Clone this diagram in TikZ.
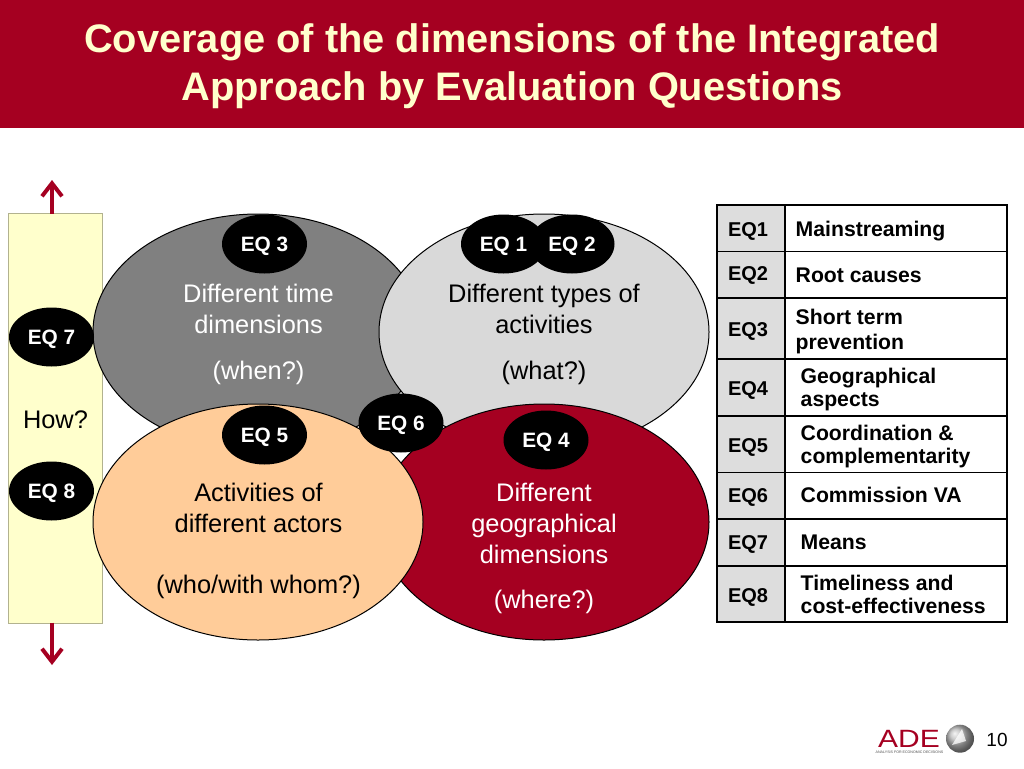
\documentclass[tikz,border=0pt]{standalone}
\usepackage{fontspec}
\setmainfont{Liberation Sans}
\usetikzlibrary{arrows.meta,shapes.geometric}
\definecolor{adered}{HTML}{A50021}
\definecolor{paleyellow}{HTML}{FFFFCC}
\definecolor{midgray}{HTML}{808080}
\definecolor{lightgray2}{HTML}{D9D9D9}
\definecolor{peach}{HTML}{FFCC99}
\definecolor{tabgray}{HTML}{DDDDDD}
\definecolor{yellowedge}{HTML}{B2B28F}
\newcommand{\eqt}[1]{\raisebox{-7.4pt}[0pt][0pt]{#1}}
\tikzset{
 x=1pt,y=1pt,
 big/.style={ellipse,draw=black,line width=1pt,minimum width=330pt,minimum height=236pt,inner sep=0pt},
 eq/.style={ellipse,fill=black,text=white,font=\fontsize{20.8}{20.8}\selectfont\bfseries,minimum width=85pt,minimum height=59pt,inner sep=0pt},
 lbl/.style={font=\fontsize{25.4}{31}\selectfont,align=center,inner sep=0pt},
 hd/.style={font=\fontsize{20}{20}\selectfont\bfseries,inner sep=0pt},
 txt/.style={font=\fontsize{21.2}{23}\selectfont\bfseries,inner sep=0pt,align=left,anchor=west},
 arr/.style={draw=adered,line width=4.5pt,-{Straight Barb[length=13pt,width=20pt,line width=4pt]}},
}
\begin{document}
\begin{tikzpicture}
\useasboundingbox (0,0) rectangle (1024,-768);
\fill[adered] (0,0) rectangle (1024,-128);
\node[text=paleyellow,font=\fontsize{39.8}{48}\selectfont\bfseries,align=center,inner sep=0pt] (title) at (512,-66) {Coverage of the dimensions of the Integrated\\Approach by Evaluation Questions};
% how bar
\node[draw=yellowedge,fill=paleyellow,line width=0.8pt,minimum width=94pt,minimum height=410pt,inner sep=0pt] (how) at (55.5,-418) {};
\node[font=\fontsize{25.4}{25.4}\selectfont,inner sep=0pt] (howt) at (55.5,-420) {How?};
\coordinate (upa) at (52,-180);
\coordinate (dna) at (52,-665);
\draw[arr] (52,-213.5) -- (upa);
\draw[arr] (52,-622.5) -- (dna);
% ellipses
\node[big,fill=midgray] (when) at (258,-332) {};
\node[big,fill=lightgray2] (what) at (544,-332) {};
\node[big,fill=adered] (where) at (544,-522) {};
\node[big,fill=peach] (who) at (258,-522) {};
% labels
\node[lbl,text=white] (t1) at (258.5,-309) {Different time\\dimensions};
\node[lbl,text=white] (t1b) at (258.5,-373) {(when?)};
\node[lbl] (t2) at (544,-309) {Different types of\\activities};
\node[lbl] (t2b) at (544,-373) {(what?)};
\node[lbl] (t3) at (258.5,-508) {Activities of\\different actors};
\node[lbl] (t3b) at (258.5,-587) {(who/with whom?)};
\node[lbl,text=white] (t4) at (544,-523.5) {Different\\geographical\\dimensions};
\node[lbl,text=white] (t4b) at (544,-602) {(where?)};
% EQ
\node[eq] (e3) at (264.5,-244) {\eqt{EQ 3}};
\node[eq] (e1) at (503.5,-244) {\eqt{EQ 1}};
\node[eq] (e2) at (572,-244) {\eqt{EQ 2}};
\node[eq] (e7) at (51.5,-337) {\eqt{EQ 7}};
\node[eq] (e8) at (51.5,-491) {\eqt{EQ 8}};
\node[eq] (e5) at (264.5,-435) {\eqt{EQ 5}};
\node[eq] (e6) at (401,-423) {\eqt{EQ 6}};
\node[eq] (e4) at (546,-440) {\eqt{EQ 4}};
% table
\fill[tabgray] (717,-205) rectangle (785,-622);
\draw[black,line width=1.2pt] (717,-205) rectangle (1007,-622);
\draw[black,line width=1.2pt] (785,-205) -- (785,-622);
\foreach \y in {-251.5,-298,-359,-416,-472.5,-519,-566}{
  \draw[black,line width=1.2pt] (717,\y) -- (1007,\y);
}
\node[hd] (h1) at (748,-231) {EQ1};
\node[hd] (h2) at (748,-275.5) {EQ2};
\node[hd] (h3) at (748,-331.5) {EQ3};
\node[hd] (h4) at (748,-390.5) {EQ4};
\node[hd] (h5) at (748,-447.5) {EQ5};
\node[hd] (h6) at (748,-497.5) {EQ6};
\node[hd] (h7) at (748,-544.5) {EQ7};
\node[hd] (h8) at (748,-597.5) {EQ8};
\node[txt] (d1) at (795.5,-231) {Mainstreaming};
\node[txt] (d2) at (795.5,-275.5) {Root causes};
\node[txt,font=\fontsize{21.2}{25}\selectfont\bfseries] (d3) at (795.5,-332) {Short term\\prevention};
\node[txt] (d4) at (800.5,-390) {Geographical\\aspects};
\node[txt] (d5) at (800.5,-447) {Coordination \&\\complementarity};
\node[txt] (d6) at (800.5,-495) {Commission VA};
\node[txt] (d7) at (800.5,-542.5) {Means};
\node[txt] (d8) at (800.5,-594) {Timeliness and\\cost-effectiveness};
% footer
\node[font=\fontsize{19}{19}\selectfont,inner sep=0pt] (pg) at (997,-740) {10};
\node[text=adered,font=\fontsize{25}{25}\selectfont,inner sep=0pt,anchor=base,xscale=1.2,transform shape] (ade) at (909,-747) {ADE};
\node[text=black!70,font=\fontsize{3.6}{3.6}\selectfont,inner sep=0pt,anchor=north] (sub) at (909.5,-750.5) {ANALYSIS FOR ECONOMIC DECISIONS};
\shade[ball color=gray!55] (960,-738.7) circle (14);
\fill[white,opacity=.75] (952,-745) -- (962,-729) -- (966,-741) -- cycle;
\end{tikzpicture}
\end{document}
